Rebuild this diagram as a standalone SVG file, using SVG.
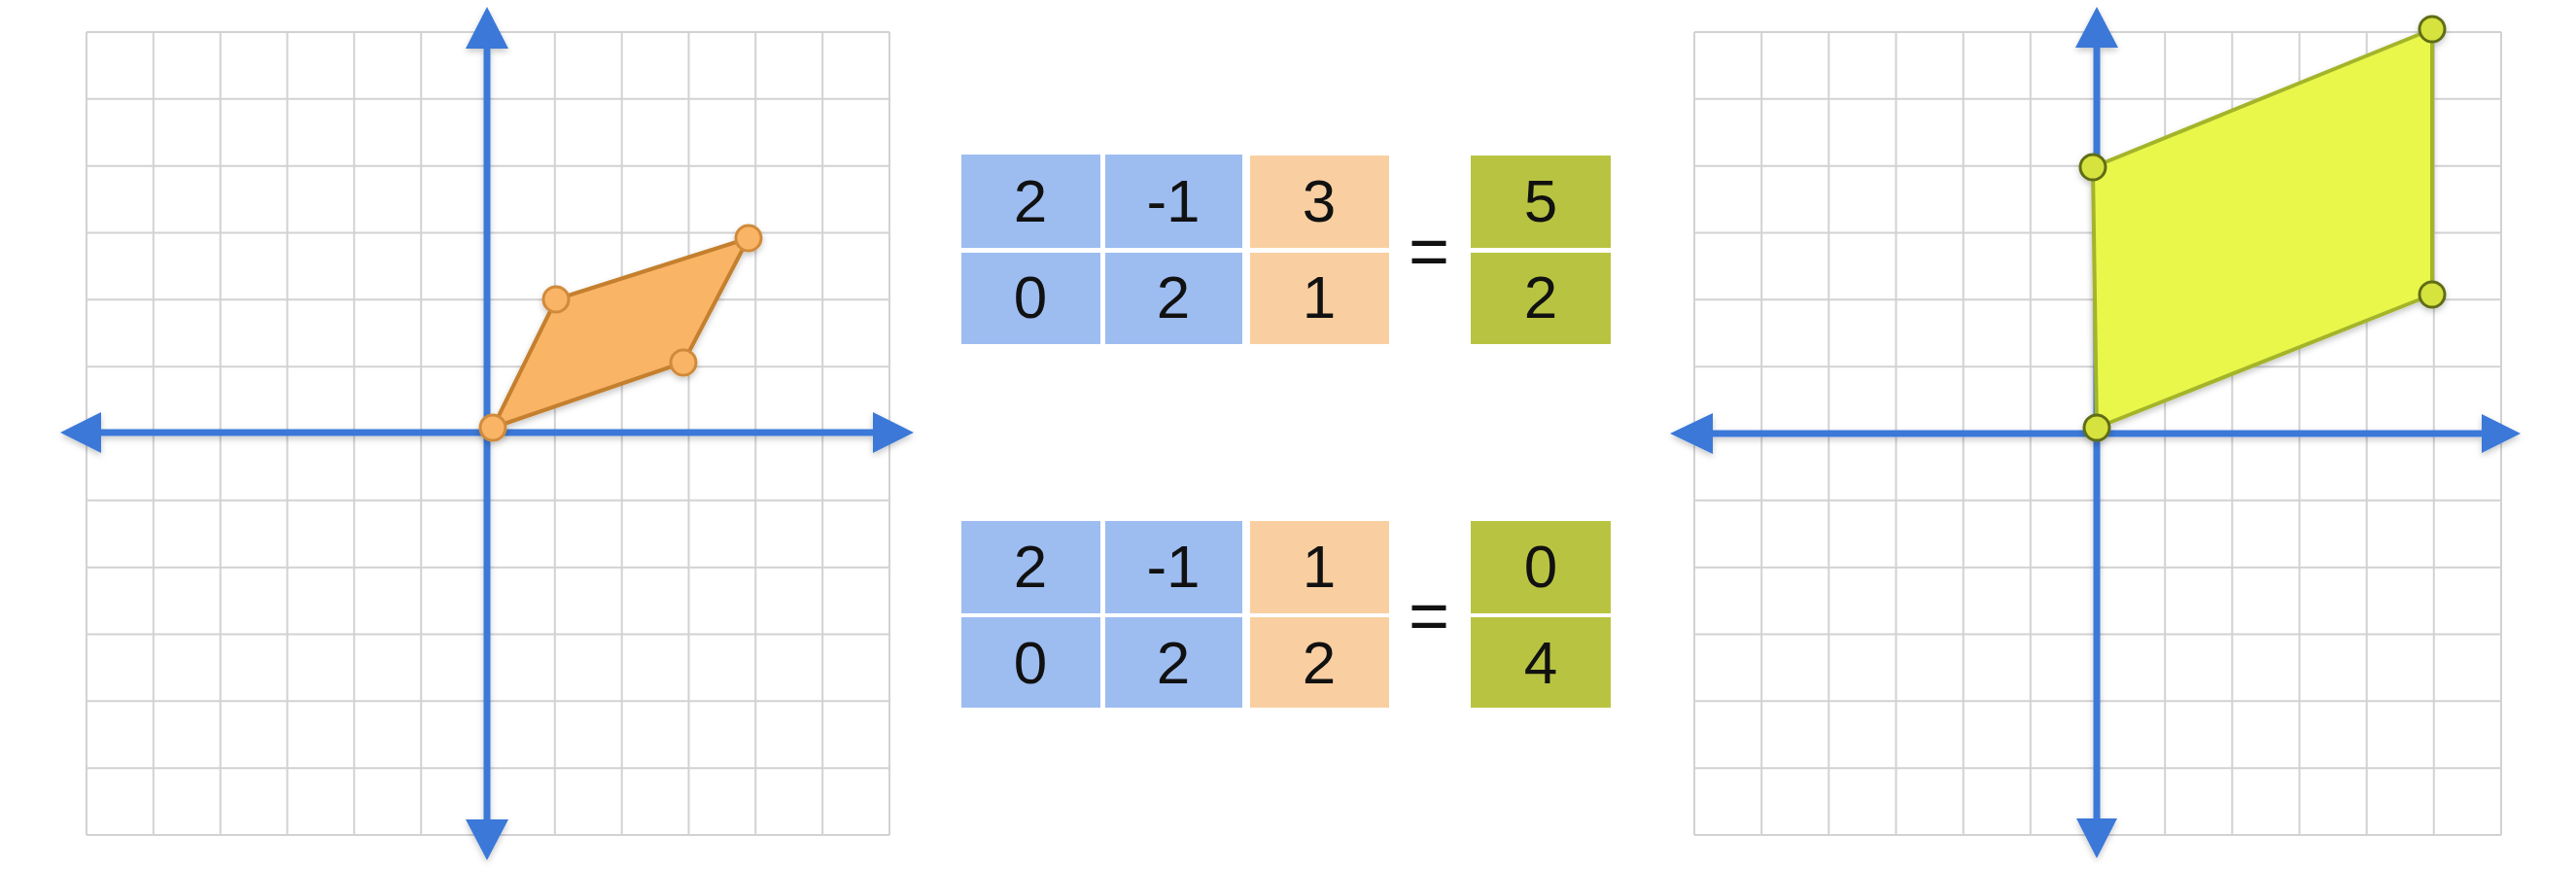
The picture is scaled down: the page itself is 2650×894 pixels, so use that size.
<svg xmlns="http://www.w3.org/2000/svg" width="2650" height="894" viewBox="0 0 2650 894">
<defs>
<filter id="sh" x="-10%" y="-10%" width="120%" height="130%">
<feDropShadow dx="0" dy="3" stdDeviation="3" flood-color="#000" flood-opacity="0.22"/>
</filter>
</defs>
<style>
.grid{fill:none;stroke:#d2d2d2;stroke-width:2}
.axis{stroke:#3a78d8;stroke-width:7;fill:none}
.arr{fill:#3a78d8}
.orange{fill:#f9b466;stroke:#c4802f;stroke-width:4;stroke-linejoin:round}
.odot{fill:#f9b466;stroke:#d08a3a;stroke-width:3}
.yellow{fill:#e9f74c;stroke:#a4b42a;stroke-width:4;stroke-linejoin:round}
.ydot{fill:#d6e23e;stroke:#5f6d16;stroke-width:3}
.blue{fill:#9dbdf1}
.peach{fill:#f9cfa1}
.green{fill:#b8c441}
.num{font-family:"Liberation Sans",Arial,sans-serif;font-size:62px;fill:#111;text-anchor:middle}
.eq{font-family:"Liberation Sans",Arial,sans-serif;font-size:72px;fill:#111;text-anchor:middle}
</style>
<rect width="2650" height="894" fill="#fff"/>

<g id="left-plane">
<path class="grid" d="M89,33V859M157.8,33V859M226.7,33V859M295.5,33V859M364.3,33V859M433.2,33V859M502,33V859M570.8,33V859M639.7,33V859M708.5,33V859M777.3,33V859M846.2,33V859M915,33V859M89,33H915M89,101.8H915M89,170.7H915M89,239.5H915M89,308.3H915M89,377.2H915M89,446H915M89,514.8H915M89,583.7H915M89,652.5H915M89,721.3H915M89,790.2H915M89,859H915"/>
<g filter="url(#sh)">
<line class="axis" x1="100" y1="445" x2="902" y2="445"/>
<line class="axis" x1="501" y1="45" x2="501" y2="848"/>
<polygon class="arr" points="62,445 104,424 104,466"/>
<polygon class="arr" points="940,445 898,424 898,466"/>
<polygon class="arr" points="501,7 479,50 523,50"/>
<polygon class="arr" points="501,885 479,843 523,843"/>
</g>
<g id="orange-shape" filter="url(#sh)">
<polygon class="orange" points="507,440 572,308 770,245 703,373"/>
<circle class="odot" cx="507" cy="440" r="13"/>
<circle class="odot" cx="572" cy="308" r="13"/>
<circle class="odot" cx="770" cy="245" r="13"/>
<circle class="odot" cx="703" cy="373" r="13"/>
</g>
</g>

<g id="equation-1">
<rect class="blue" x="989" y="159" width="143" height="96"/>
<rect class="blue" x="1137" y="159" width="141" height="96"/>
<rect class="blue" x="989" y="260" width="143" height="94"/>
<rect class="blue" x="1137" y="260" width="141" height="94"/>
<rect class="peach" x="1286" y="160" width="143" height="95"/>
<rect class="peach" x="1286" y="260" width="143" height="94"/>
<rect class="green" x="1513" y="160" width="144" height="95"/>
<rect class="green" x="1513" y="260" width="144" height="94"/>
<text class="num" x="1060" y="228">2</text>
<text class="num" x="1207" y="228">-1</text>
<text class="num" x="1357" y="228">3</text>
<text class="num" x="1585" y="228">5</text>
<text class="num" x="1060" y="327">0</text>
<text class="num" x="1207" y="327">2</text>
<text class="num" x="1357" y="327">1</text>
<text class="num" x="1585" y="327">2</text>
<text class="eq" x="1470" y="283">=</text>
</g>

<g id="equation-2">
<rect class="blue" x="989" y="536" width="143" height="95"/>
<rect class="blue" x="1137" y="536" width="141" height="95"/>
<rect class="blue" x="989" y="635" width="143" height="93"/>
<rect class="blue" x="1137" y="635" width="141" height="93"/>
<rect class="peach" x="1286" y="536" width="143" height="95"/>
<rect class="peach" x="1286" y="635" width="143" height="93"/>
<rect class="green" x="1513" y="536" width="144" height="95"/>
<rect class="green" x="1513" y="635" width="144" height="93"/>
<text class="num" x="1060" y="604">2</text>
<text class="num" x="1207" y="604">-1</text>
<text class="num" x="1357" y="604">1</text>
<text class="num" x="1585" y="604">0</text>
<text class="num" x="1060" y="703">0</text>
<text class="num" x="1207" y="703">2</text>
<text class="num" x="1357" y="703">2</text>
<text class="num" x="1585" y="703">4</text>
<text class="eq" x="1470" y="658">=</text>
</g>

<g id="right-plane">
<path class="grid" d="M1743,33V859M1812.2,33V859M1881.3,33V859M1950.5,33V859M2019.7,33V859M2088.8,33V859M2158,33V859M2227.2,33V859M2296.3,33V859M2365.5,33V859M2434.7,33V859M2503.8,33V859M2573,33V859M1743,33H2573M1743,101.8H2573M1743,170.7H2573M1743,239.5H2573M1743,308.3H2573M1743,377.2H2573M1743,446H2573M1743,514.8H2573M1743,583.7H2573M1743,652.5H2573M1743,721.3H2573M1743,790.2H2573M1743,859H2573"/>
<g filter="url(#sh)">
<line class="axis" x1="1756" y1="446" x2="2558" y2="446"/>
<line class="axis" x1="2157" y1="45" x2="2157" y2="846"/>
<polygon class="arr" points="1718,446 1762,425 1762,467"/>
<polygon class="arr" points="2593,446 2553,426 2553,466"/>
<polygon class="arr" points="2157,7 2135,49 2179,49"/>
<polygon class="arr" points="2157,883 2136,842 2178,842"/>
</g>
<g id="yellow-shape" filter="url(#sh)">
<polygon class="yellow" points="2157,440 2153,172 2502,30 2502,303"/>
<circle class="ydot" cx="2157" cy="440" r="13"/>
<circle class="ydot" cx="2153" cy="172" r="13"/>
<circle class="ydot" cx="2502" cy="30" r="13"/>
<circle class="ydot" cx="2502" cy="303" r="13"/>
</g>
</g>
</svg>
